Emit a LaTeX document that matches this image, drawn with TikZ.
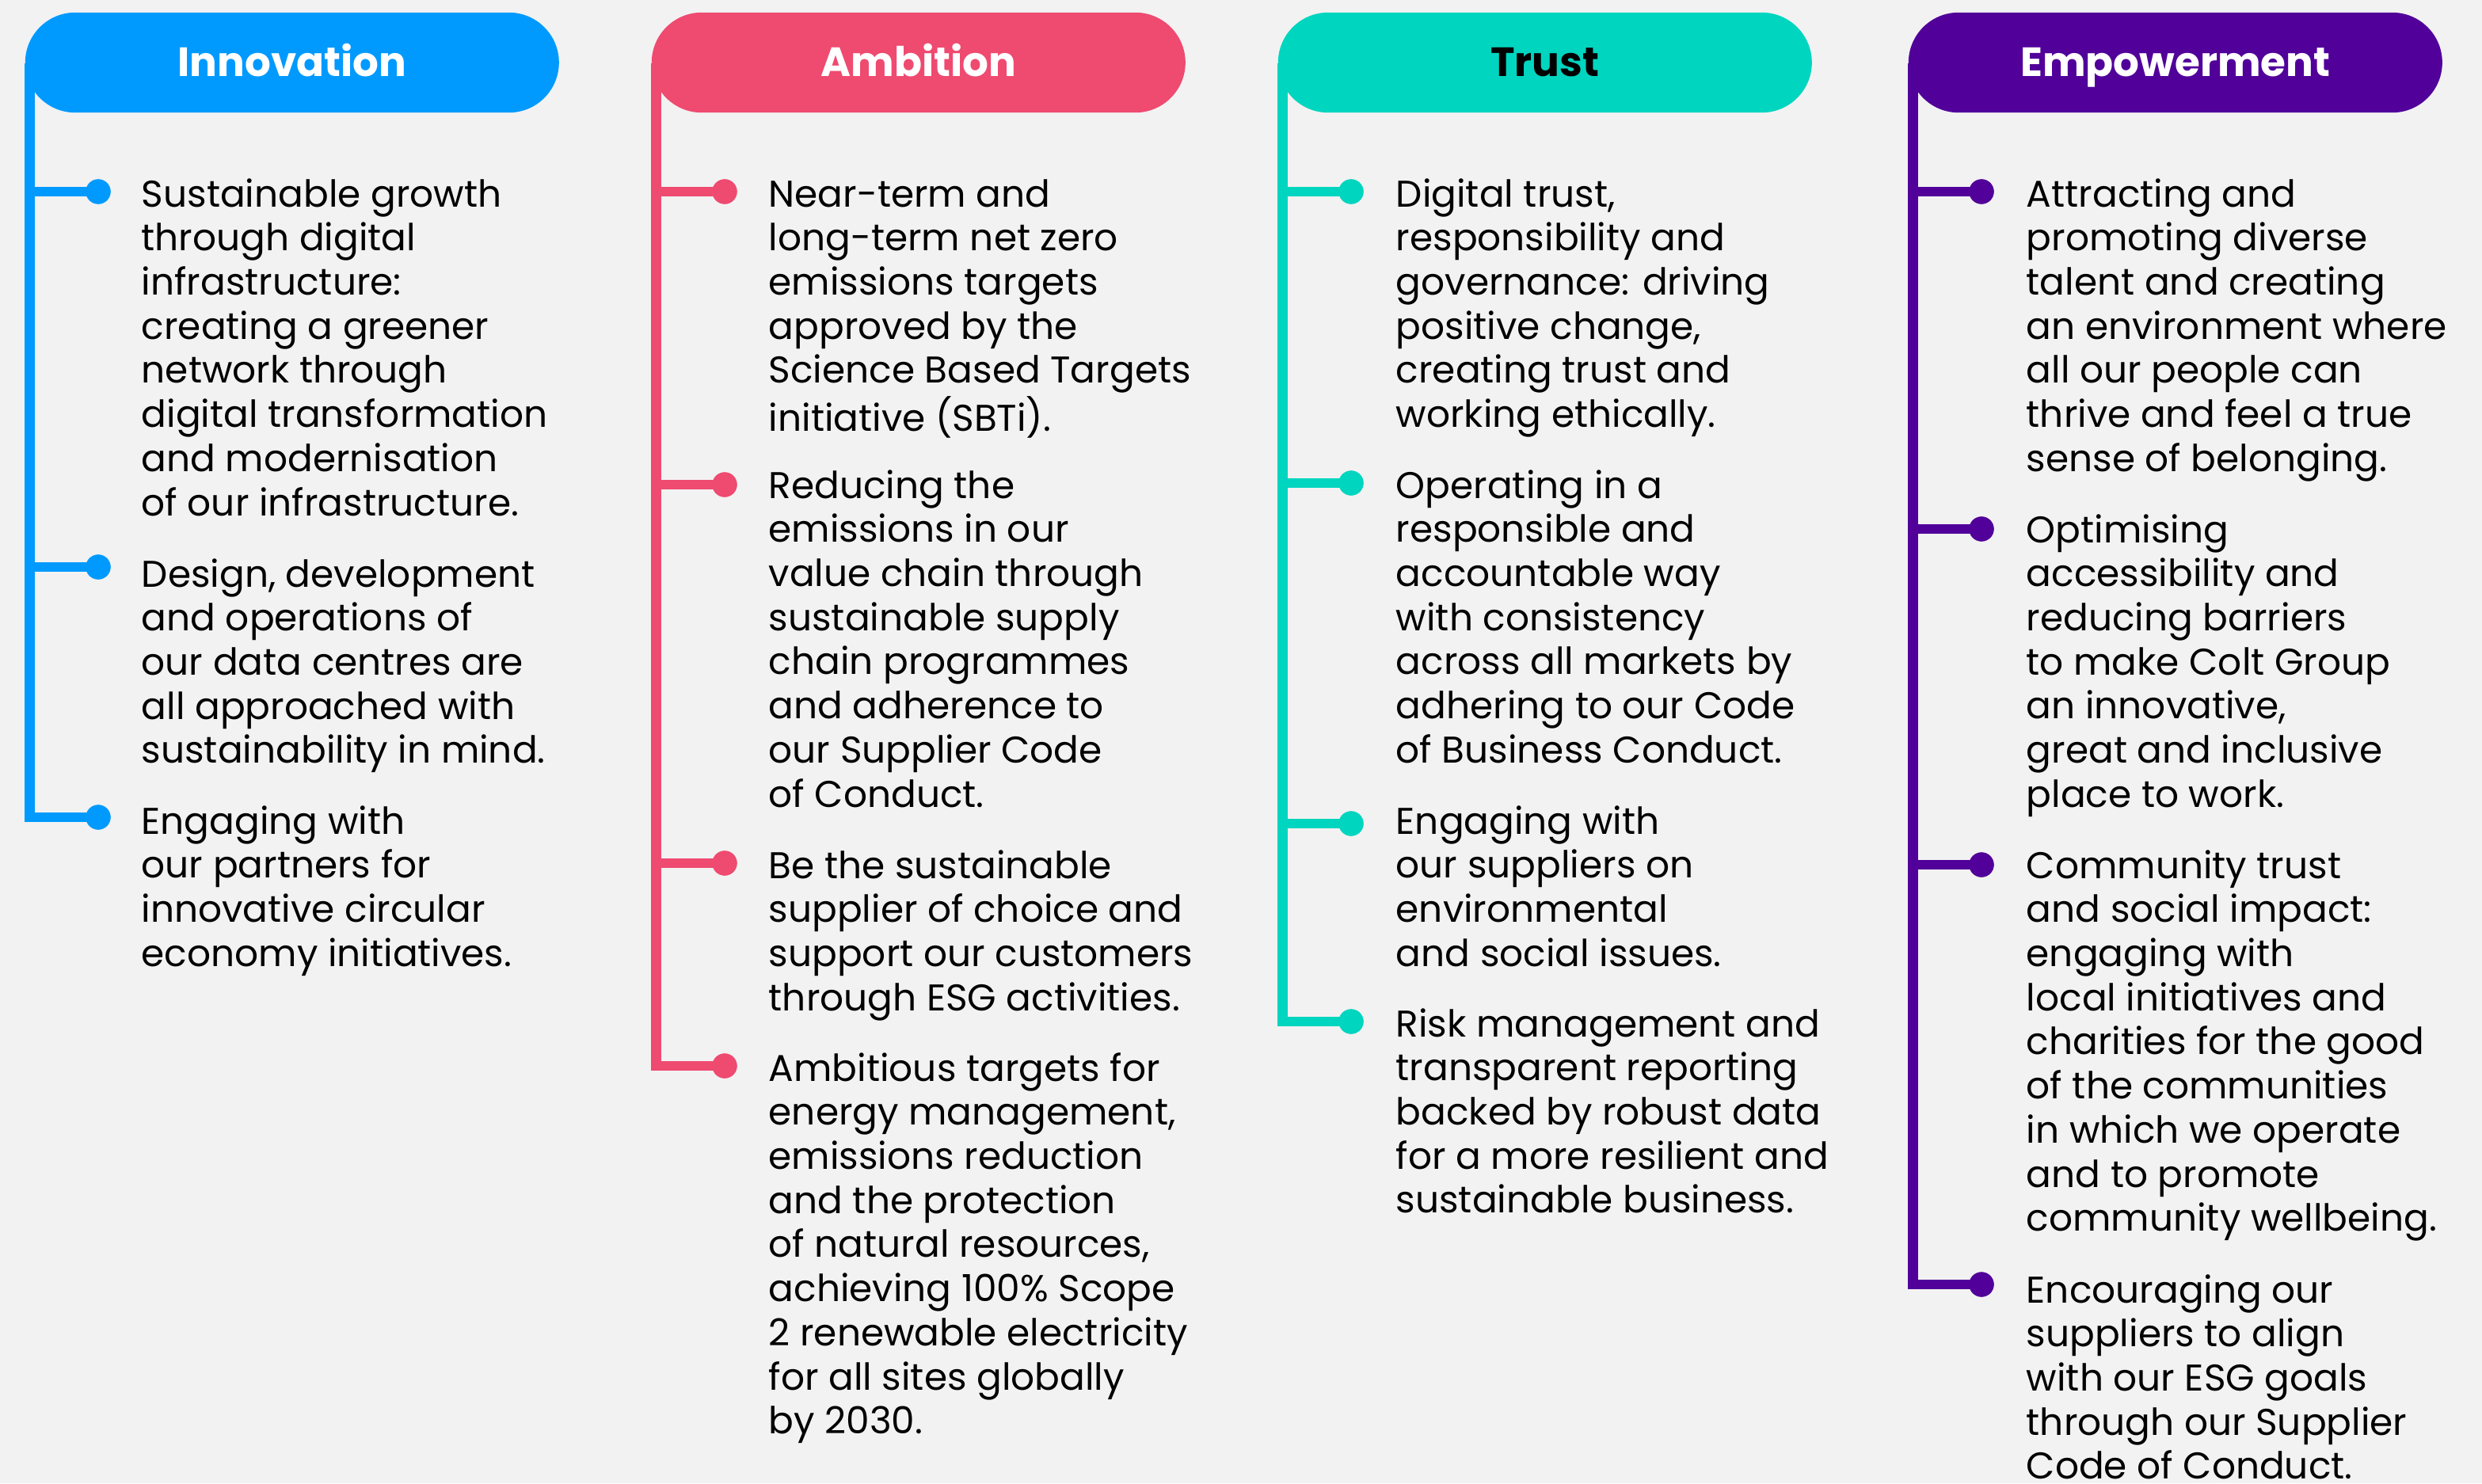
\documentclass[tikz,border=0pt]{standalone}
\usepackage{fontspec}
\setmainfont{Poppins}
\definecolor{cInn}{RGB}{0,154,255}
\definecolor{cAmb}{RGB}{239,74,112}
\definecolor{cTru}{RGB}{0,213,191}
\definecolor{cEmp}{RGB}{81,0,154}
\definecolor{bgc}{RGB}{242,242,242}
\newcommand{\blk}[1]{\parbox[t]{200pt}{\raggedright #1}}
\tikzset{
  hdr/.style={rectangle, rounded corners=15.8pt, minimum width=168.5pt, minimum height=31.6pt,
    inner sep=0pt, anchor=north west, font=\bfseries\fontsize{12.9}{16}\selectfont,
    text height=9pt, text depth=0pt, fill=#1, text=white},
  trunk/.style={line width=3.2pt, draw=#1},
  dotn/.style={circle, fill=#1, minimum size=7.8pt, inner sep=0pt},
  txt/.style={anchor=base west, inner sep=0pt, font=\fontsize{11.75}{13.93}\selectfont},
}
\begin{document}
\begin{tikzpicture}[x=0.5pt,y=-0.5pt]
\fill[bgc] (0,0) rectangle (1567,936.5);
\useasboundingbox (0,0) rectangle (1567,936.5);

% ---------------- Innovation ----------------
\coordinate (iTop) at (18.7,40);
\node[dotn=cInn] (i1) at (62,121) {};
\node[dotn=cInn] (i2) at (62,358) {};
\node[dotn=cInn] (i3) at (62,516) {};
\draw[trunk=cInn] (iTop) |- (i3.center);
\draw[trunk=cInn] (iTop |- i1) -- (i1.center);
\draw[trunk=cInn] (iTop |- i2) -- (i2.center);
\node[dotn=cInn] at (i1) {};
\node[dotn=cInn] at (i2) {};
\node[dotn=cInn] at (i3) {};
\node[hdr=cInn] (hInn) at (15.5,7.5) {Innovation};
\node[txt] (i1t) at (89,130.5) {\blk{Sustainable growth\\through digital\\infrastructure:\\creating a greener\\network through\\digital transformation\\and modernisation\\of our infrastructure.}};
\node[txt] (i2t) at (89,370.5) {\blk{Design, development\\and operations of\\our data centres are\\all approached with\\sustainability in mind.}};
\node[txt] (i3t) at (89,526.5) {\blk{Engaging with\\our partners for\\innovative circular\\economy initiatives.}};

% ---------------- Ambition ----------------
\coordinate (aTop) at (414.2,40);
\node[dotn=cAmb] (a1) at (457.5,121) {};
\node[dotn=cAmb] (a2) at (457.5,306) {};
\node[dotn=cAmb] (a3) at (457.5,545) {};
\node[dotn=cAmb] (a4) at (457.5,673) {};
\draw[trunk=cAmb] (aTop) |- (a4.center);
\draw[trunk=cAmb] (aTop |- a1) -- (a1.center);
\draw[trunk=cAmb] (aTop |- a2) -- (a2.center);
\draw[trunk=cAmb] (aTop |- a3) -- (a3.center);
\node[dotn=cAmb] at (a1) {};
\node[dotn=cAmb] at (a2) {};
\node[dotn=cAmb] at (a3) {};
\node[dotn=cAmb] at (a4) {};
\node[hdr=cAmb] (hAmb) at (411,7.5) {Ambition};
\node[txt] (a1t) at (485,130.5) {\blk{Near-term and\\long-term net zero\\emissions targets\\approved by the\\Science Based Targets\\initiative (SBTi).}};
\node[txt] (a2t) at (485,314.5) {\blk{Reducing the\\emissions in our\\value chain through\\sustainable supply\\chain programmes\\and adherence to\\our Supplier Code\\of Conduct.}};
\node[txt] (a3t) at (485,554.5) {\blk{Be the sustainable\\supplier of choice and\\support our customers\\through ESG activities.}};
\node[txt] (a4t) at (485,682.5) {\blk{Ambitious targets for\\energy management,\\emissions reduction\\and the protection\\of natural resources,\\achieving 100\% Scope\\2 renewable electricity\\for all sites globally\\by 2030.}};

% ---------------- Trust ----------------
\coordinate (tTop) at (809.7,40);
\node[dotn=cTru] (t1) at (853,121) {};
\node[dotn=cTru] (t2) at (853,305) {};
\node[dotn=cTru] (t3) at (853,520) {};
\node[dotn=cTru] (t4) at (853,645) {};
\draw[trunk=cTru] (tTop) |- (t4.center);
\draw[trunk=cTru] (tTop |- t1) -- (t1.center);
\draw[trunk=cTru] (tTop |- t2) -- (t2.center);
\draw[trunk=cTru] (tTop |- t3) -- (t3.center);
\node[dotn=cTru] at (t1) {};
\node[dotn=cTru] at (t2) {};
\node[dotn=cTru] at (t3) {};
\node[dotn=cTru] at (t4) {};
\node[hdr=cTru, text=black] (hTru) at (806.5,7.5) {Trust};
\node[txt] (t1t) at (881,130.5) {\blk{Digital trust,\\responsibility and\\governance: driving\\positive change,\\creating trust and\\working ethically.}};
\node[txt] (t2t) at (881,314.5) {\blk{Operating in a\\responsible and\\accountable way\\with consistency\\across all markets by\\adhering to our Code\\of Business Conduct.}};
\node[txt] (t3t) at (881,526.5) {\blk{Engaging with\\our suppliers on\\environmental\\and social issues.}};
\node[txt] (t4t) at (881,654.5) {\blk{Risk management and\\transparent reporting\\backed by robust data\\for a more resilient and\\sustainable business.}};

% ---------------- Empowerment ----------------
\coordinate (eTop) at (1207.7,40);
\node[dotn=cEmp] (e1) at (1251,121) {};
\node[dotn=cEmp] (e2) at (1251,334) {};
\node[dotn=cEmp] (e3) at (1251,546) {};
\node[dotn=cEmp] (e4) at (1251,811) {};
\draw[trunk=cEmp] (eTop) |- (e4.center);
\draw[trunk=cEmp] (eTop |- e1) -- (e1.center);
\draw[trunk=cEmp] (eTop |- e2) -- (e2.center);
\draw[trunk=cEmp] (eTop |- e3) -- (e3.center);
\node[dotn=cEmp] at (e1) {};
\node[dotn=cEmp] at (e2) {};
\node[dotn=cEmp] at (e3) {};
\node[dotn=cEmp] at (e4) {};
\node[hdr=cEmp] (hEmp) at (1204.5,7.5) {Empowerment};
\node[txt] (e1t) at (1279,130.5) {\blk{Attracting and\\promoting diverse\\talent and creating\\an environment where\\all our people can\\thrive and feel a true\\sense of belonging.}};
\node[txt] (e2t) at (1279,342.5) {\blk{Optimising\\accessibility and\\reducing barriers\\to make Colt Group\\an innovative,\\great and inclusive\\place to work.}};
\node[txt] (e3t) at (1279,554.5) {\blk{Community trust\\and social impact:\\engaging with\\local initiatives and\\charities for the good\\of the communities\\in which we operate\\and to promote\\community wellbeing.}};
\node[txt] (e4t) at (1279,822.5) {\blk{Encouraging our\\suppliers to align\\with our ESG goals\\through our Supplier\\Code of Conduct.}};
\end{tikzpicture}
\end{document}
